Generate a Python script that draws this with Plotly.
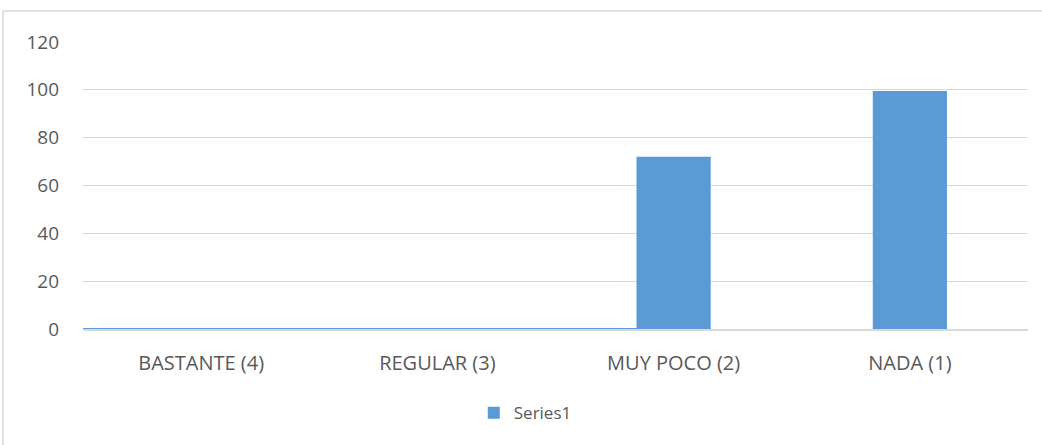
import plotly.graph_objects as go

categories = ["BASTANTE (4)", "REGULAR (3)", "MUY POCO (2)", "NADA (1)"]
values = [0, 0, 72, 99.5]
series_name = "Series1"
y_ticks = [0, 20, 40, 60, 80, 100, 120]

BLUE = "#5B9BD5"
GRID = "#D9D9D9"
TEXT = "#595959"
FONT = "'Open Sans', Lato, sans-serif"
BARGAP = 0.686

fig = go.Figure()
fig.add_trace(go.Bar(x=categories, y=values, name=series_name,
                     marker=dict(color=BLUE, line=dict(width=0))))

fig.update_layout(
    width=1042, height=445,
    margin=dict(l=83, r=14, t=42, b=116),
    paper_bgcolor="white", plot_bgcolor="white",
    bargap=BARGAP,
    font=dict(family=FONT, size=18, color=TEXT),
    showlegend=True,
    legend=dict(orientation="h", x=0.468, xanchor="center", y=-0.293, yanchor="middle",
                font=dict(size=17, color=TEXT), itemwidth=30),
    xaxis=dict(showgrid=False, showline=True, linecolor=GRID, linewidth=2,
               tickfont=dict(size=20, color=TEXT), ticklabelstandoff=15,
               range=[-0.5, 3.5]),
    yaxis=dict(range=[0, 120], tickvals=y_ticks, showgrid=True, gridcolor=GRID,
               gridwidth=1, zeroline=False, showline=False,
               tickfont=dict(size=19, color=TEXT), ticklabelstandoff=23),
    shapes=[
        # chart area border (cropped at right and bottom)
        dict(type="rect", xref="paper", yref="paper", x0=-0.0847, x1=1.2,
             y0=-0.6, y1=1.108, line=dict(color=GRID, width=1.5),
             fillcolor="rgba(0,0,0,0)", layer="below"),
        # blue baseline under zero-value categories
        dict(type="line", xref="x", yref="y", x0=-0.5, x1=2 + (1 - BARGAP) / 2,
             y0=0, y1=0, line=dict(color=BLUE, width=2), layer="above"),
    ],
)

fig.write_html("out.html", config={"displayModeBar": False},
               post_script="document.body.style.margin='0';document.body.style.overflow='hidden';")
